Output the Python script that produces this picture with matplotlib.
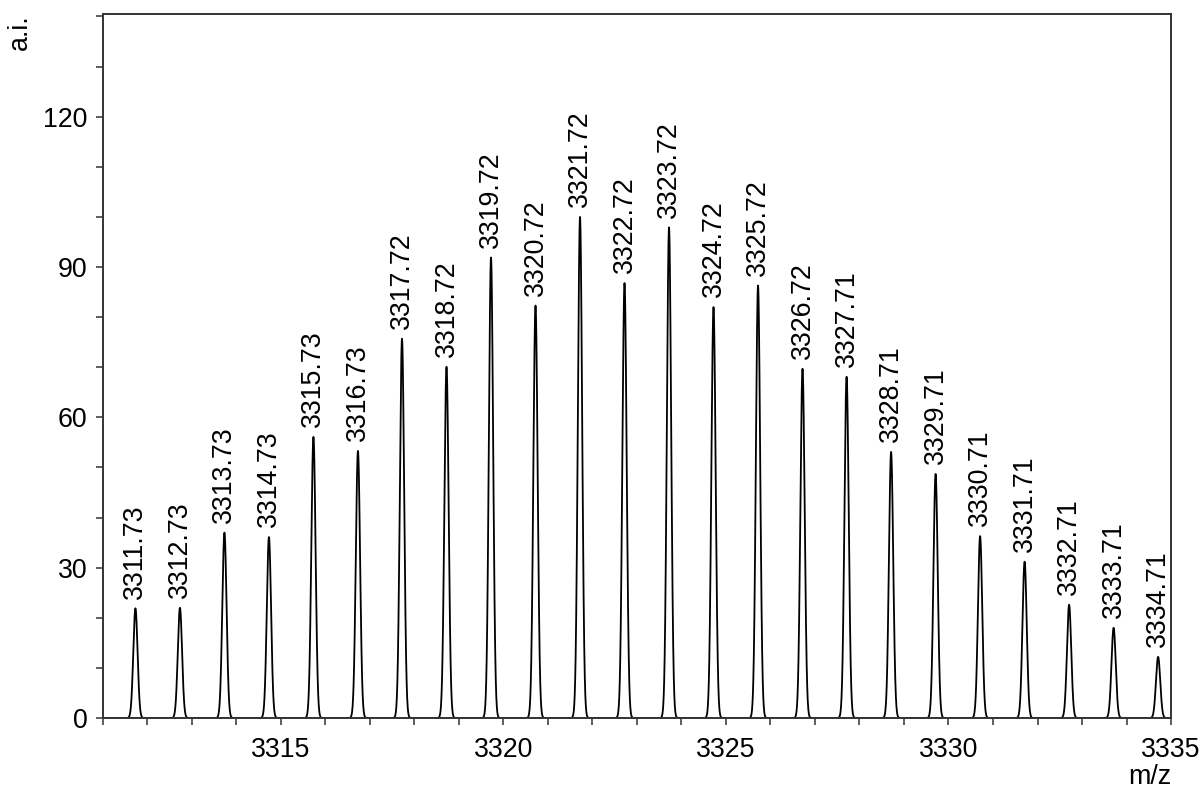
import numpy as np
import matplotlib.pyplot as plt

plt.rcParams['font.family'] = ['Liberation Sans', 'DejaVu Sans']

# isotope peaks: centroid m/z and intensity (a.i.)
PICOS_MZ = [3311.73, 3312.73, 3313.73, 3314.73, 3315.73, 3316.73, 3317.72, 3318.72,
            3319.72, 3320.72, 3321.72, 3322.72, 3323.72, 3324.72, 3325.72, 3326.72,
            3327.71, 3328.71, 3329.71, 3330.71, 3331.71, 3332.71, 3333.71, 3334.71]
PICOS_INT = [21.9, 22.0, 37.0, 36.1, 56.1, 53.3, 75.7, 70.1,
             91.9, 82.3, 100.0, 86.8, 97.9, 82.0, 86.3, 69.7,
             68.1, 53.1, 48.7, 36.3, 31.2, 22.6, 18.0, 12.2]
LARGURA = 0.048  # sigma do perfil gaussiano (m/z)

X_MIN, X_MAX = 3311, 3335
Y_MIN, Y_MAX = 0, 140.5
X_TICKS = [3315, 3320, 3325, 3330, 3335]
Y_TICKS = [0, 30, 60, 90, 120]

FONTE = 19.3


def espectro(mz, centros, alturas, sigma):
    """Soma dos perfis gaussianos de cada pico."""
    y = np.zeros_like(mz)
    for c, h in zip(centros, alturas):
        y += h * np.exp(-0.5 * ((mz - c) / sigma) ** 2)
    return y


mz = np.linspace(X_MIN, X_MAX, 24001)
intensidade = espectro(mz, PICOS_MZ, PICOS_INT, LARGURA)

fig = plt.figure(figsize=(12.04, 7.94), dpi=100)
ax = fig.add_axes([0.0855, 0.0957, 0.9726 - 0.0855, 0.9824 - 0.0957])

ax.plot(mz, intensidade, color="black", lw=1.3)

for c, h in zip(PICOS_MZ, PICOS_INT):
    ax.annotate(f"{c:.2f}", xy=(c, h), xytext=(0, 7), textcoords="offset points",
                rotation=90, ha="center", va="bottom", fontsize=FONTE)

ax.set_xlim(X_MIN, X_MAX)
ax.set_ylim(Y_MIN, Y_MAX)
ax.set_xticks(X_TICKS)
ax.set_yticks(Y_TICKS)
ax.set_xticks(np.arange(X_MIN, X_MAX + 1, 1), minor=True)
ax.set_yticks(np.arange(0, 141, 10), minor=True)

for lado in ax.spines.values():
    lado.set_color("#333333")
    lado.set_linewidth(1.4)

ax.tick_params(which="both", direction="out", length=5, width=1.1, color="#333333")
ax.tick_params(axis="x", which="major", pad=9, labelsize=FONTE)
ax.tick_params(axis="y", which="major", pad=6, labelsize=FONTE)

fig.text(33 / 1204, 1 - 14 / 794, "a.i.", rotation=90, ha="right", va="top", fontsize=FONTE)
fig.text(1171 / 1204, 4 / 794, "m/z", ha="right", va="bottom", fontsize=FONTE)

fig.savefig("out.png", dpi=100)
